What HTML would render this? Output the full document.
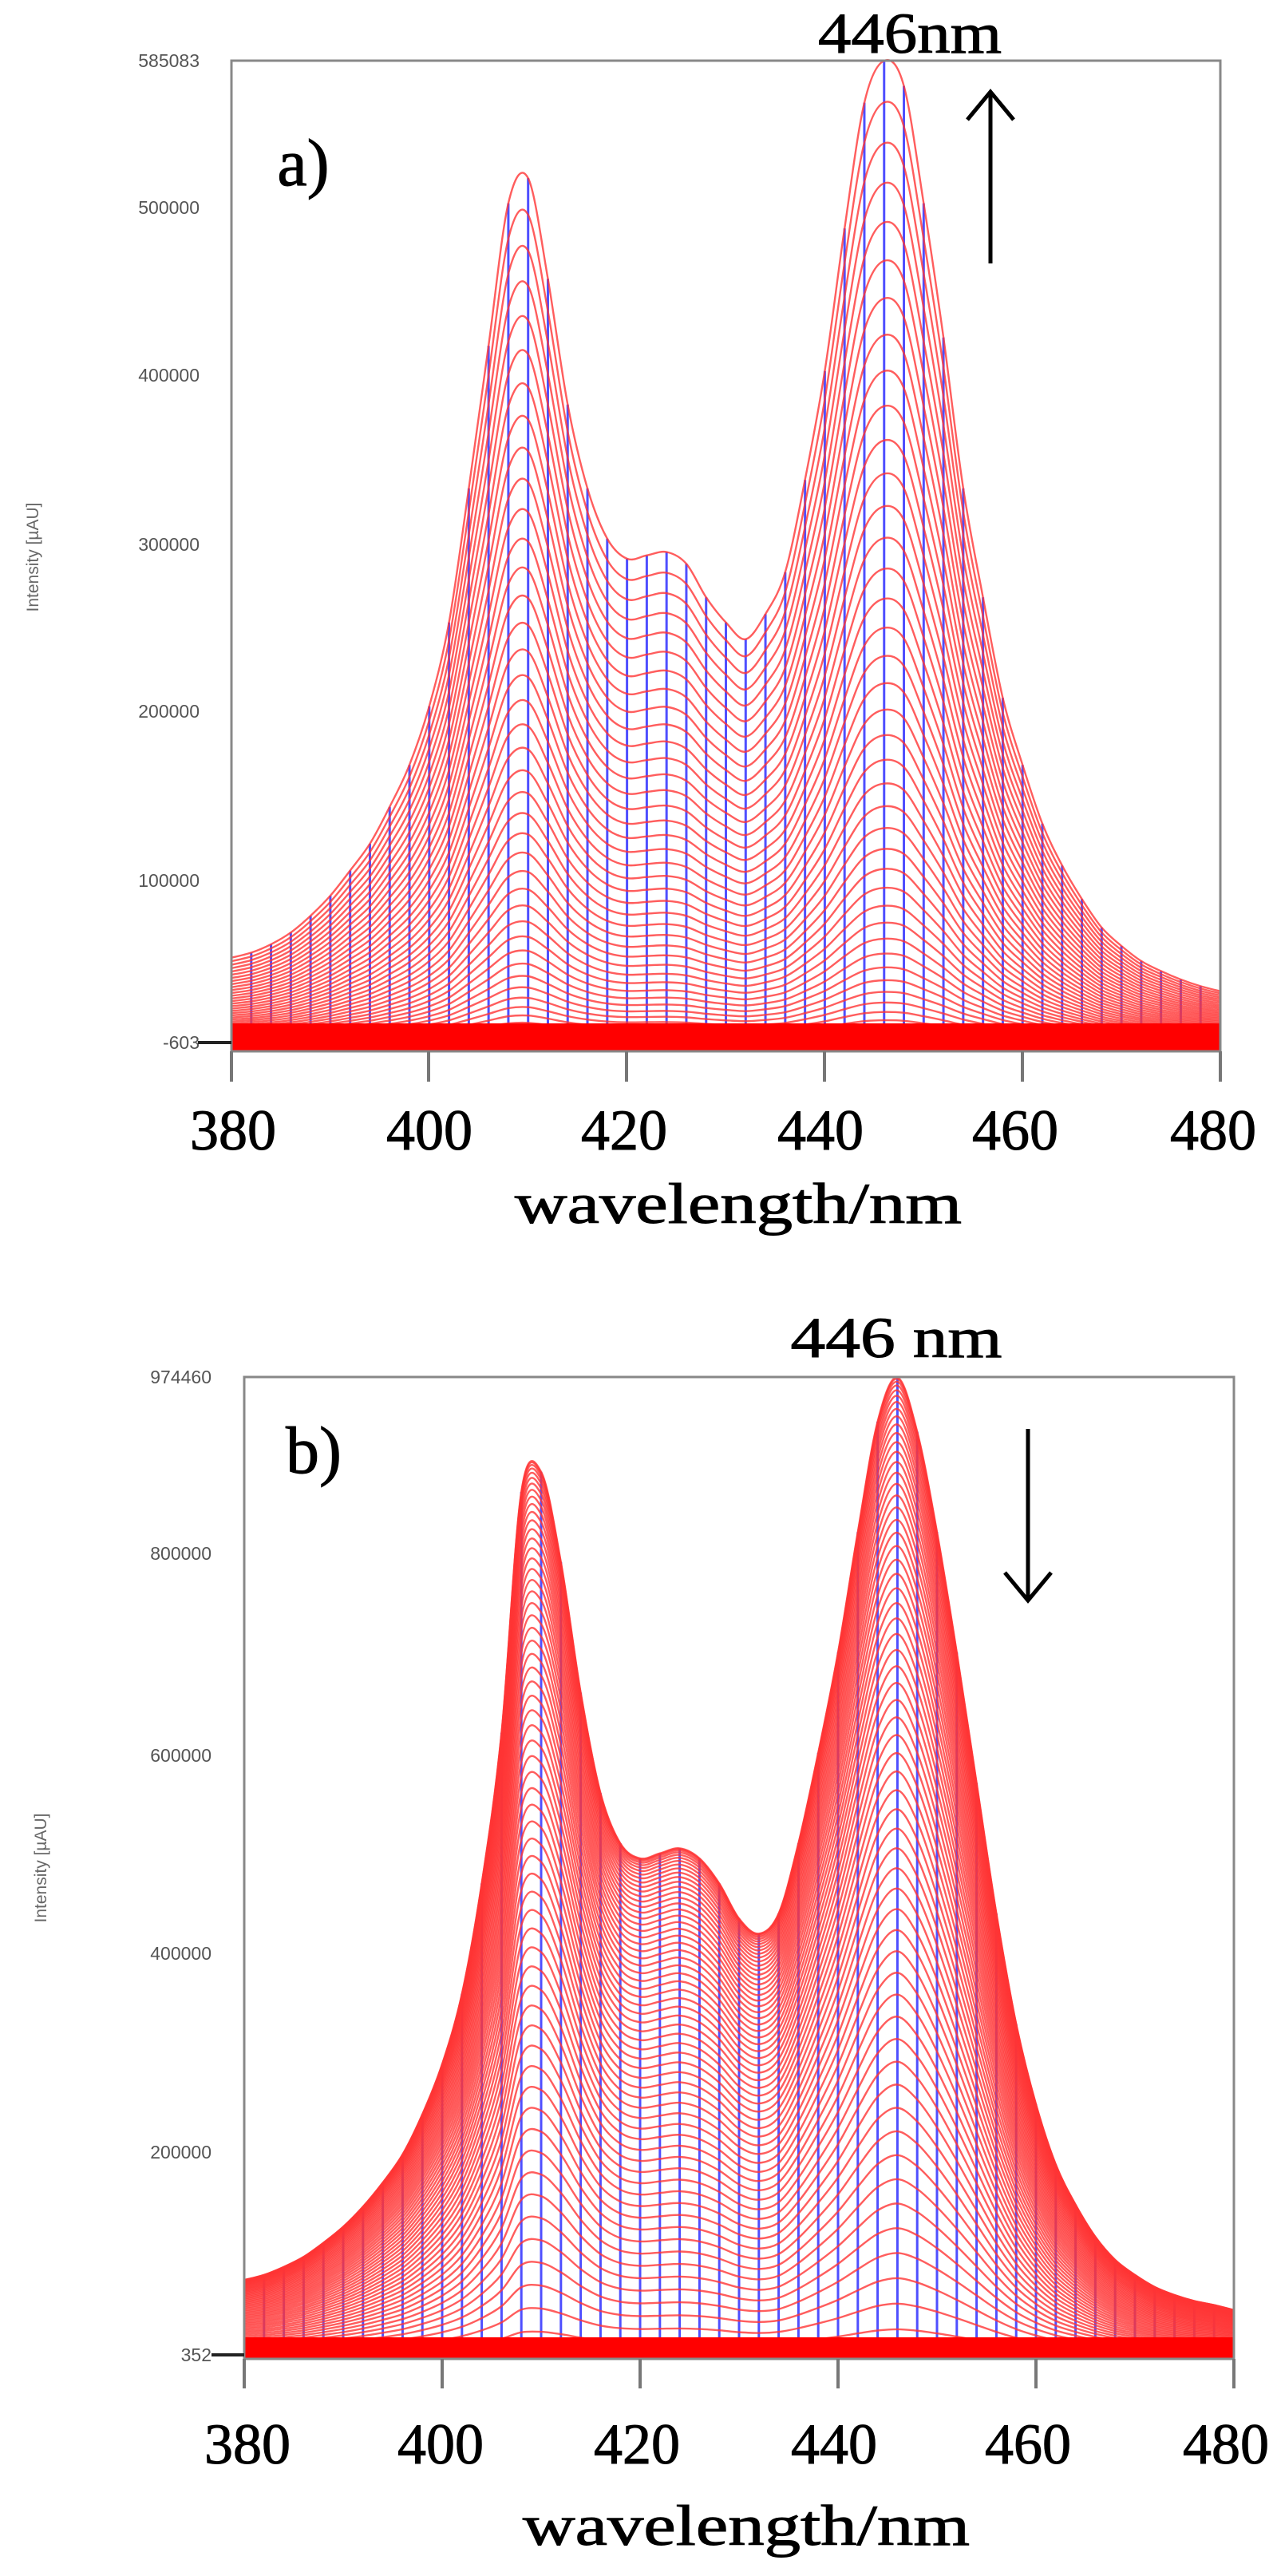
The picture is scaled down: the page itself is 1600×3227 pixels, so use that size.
<!DOCTYPE html>
<html><head><meta charset="utf-8">
<style>html,body{margin:0;padding:0;background:#fff;}svg{display:block;}</style>
</head><body>
<svg id="s" width="1600" height="3227" viewBox="0 0 1600 3227" xmlns="http://www.w3.org/2000/svg">
<rect width="1600" height="3227" fill="#fff"/>
<g id="ga"></g>
<g id="gb"></g>
<!-- frame a -->
<rect x="290" y="76" width="1239" height="1241" fill="none" stroke="#888" stroke-width="3"/>
<g font-family="Liberation Sans, sans-serif" font-size="23" fill="#555" text-anchor="end">
<text x="250" y="84">585083</text>
<text x="250" y="268">500000</text>
<text x="250" y="478">400000</text>
<text x="250" y="690">300000</text>
<text x="250" y="899">200000</text>
<text x="250" y="1111">100000</text>
<text x="250" y="1314">-603</text>
</g>
<line x1="248" y1="1306" x2="290" y2="1306" stroke="#222" stroke-width="4"/>
<text transform="translate(48,698) rotate(-90)" font-family="Liberation Sans, sans-serif" font-size="21" fill="#666" text-anchor="middle">Intensity [µAU]</text>
<g stroke="#777" stroke-width="4">
<line x1="290" y1="1317" x2="290" y2="1355"/><line x1="537" y1="1317" x2="537" y2="1355"/><line x1="785" y1="1317" x2="785" y2="1355"/><line x1="1033" y1="1317" x2="1033" y2="1355"/><line x1="1281" y1="1317" x2="1281" y2="1355"/><line x1="1529" y1="1317" x2="1529" y2="1355"/>
</g>
<g font-family="Liberation Serif, serif" font-size="72" fill="#000" text-anchor="middle" stroke="#000" stroke-width="1">
<text x="292" y="1440">380</text><text x="538" y="1440">400</text><text x="782" y="1440">420</text><text x="1028" y="1440">440</text><text x="1272" y="1440">460</text><text x="1520" y="1440">480</text>
<text x="925" y="1532" textLength="560" lengthAdjust="spacingAndGlyphs">wavelength/nm</text>
<text x="1140" y="66" textLength="230" lengthAdjust="spacingAndGlyphs">446nm</text>
<text x="380" y="232" font-size="84">a)</text>
</g>
<line x1="1241" y1="330" x2="1241" y2="118" stroke="#000" stroke-width="5"/>
<path d="M1212 150 L1241 115 L1270 150" fill="none" stroke="#000" stroke-width="5"/>

<!-- frame b -->
<rect x="306" y="1725" width="1240" height="1230" fill="none" stroke="#888" stroke-width="3"/>
<g font-family="Liberation Sans, sans-serif" font-size="23" fill="#555" text-anchor="end">
<text x="265" y="1733">974460</text>
<text x="265" y="1954">800000</text>
<text x="265" y="2207">600000</text>
<text x="265" y="2455">400000</text>
<text x="265" y="2704">200000</text>
<text x="265" y="2958">352</text>
</g>
<line x1="265" y1="2950" x2="306" y2="2950" stroke="#222" stroke-width="4"/>
<text transform="translate(58,2340) rotate(-90)" font-family="Liberation Sans, sans-serif" font-size="21" fill="#666" text-anchor="middle">Intensity [µAU]</text>
<g stroke="#777" stroke-width="4">
<line x1="306" y1="2955" x2="306" y2="2992"/><line x1="554" y1="2955" x2="554" y2="2992"/><line x1="802" y1="2955" x2="802" y2="2992"/><line x1="1050" y1="2955" x2="1050" y2="2992"/><line x1="1298" y1="2955" x2="1298" y2="2992"/><line x1="1546" y1="2955" x2="1546" y2="2992"/>
</g>
<g font-family="Liberation Serif, serif" font-size="72" fill="#000" text-anchor="middle" stroke="#000" stroke-width="1">
<text x="310" y="3086">380</text><text x="552" y="3086">400</text><text x="798" y="3086">420</text><text x="1045" y="3086">440</text><text x="1288" y="3086">460</text><text x="1536" y="3086">480</text>
<text x="935" y="3188" textLength="560" lengthAdjust="spacingAndGlyphs">wavelength/nm</text>
<text x="1123" y="1700" textLength="265" lengthAdjust="spacingAndGlyphs">446 nm</text>
<text x="393" y="1845" font-size="84">b)</text>
</g>
<line x1="1288" y1="1790" x2="1288" y2="2002" stroke="#000" stroke-width="5"/>
<path d="M1259 1970 L1288 2005 L1317 1970" fill="none" stroke="#000" stroke-width="5"/>
</svg>
<script>
(function(){
var NS="http://www.w3.org/2000/svg";
var A=[50,53,58,65,75,87,102,118,140,165,200,250,330,415,500,515,455,380,330,300,288,290,292,285,265,250,240,255,280,335,400,485,560,585,570,500,420,330,265,205,165,130,105,85,68,57,48,42,37,33,30];
var B=[75,80,88,98,112,128,148,172,200,240,290,360,470,620,860,880,790,660,560,510,495,500,505,495,470,435,420,440,510,600,700,820,930,974,920,820,700,570,440,330,250,190,150,118,95,80,68,60,54,50,45];
function el(g,tag,at){var e=document.createElementNS(NS,tag);for(var k in at)e.setAttribute(k,at[k]);g.appendChild(e);return e;}
function smooth(P){var d='M'+P[0][0].toFixed(1)+' '+P[0][1].toFixed(1);
 for(var i=0;i<P.length-1;i++){var p0=P[Math.max(0,i-1)],p1=P[i],p2=P[i+1],p3=P[Math.min(P.length-1,i+2)];
  var c1x=p1[0]+(p2[0]-p0[0])/6,c1y=p1[1]+(p2[1]-p0[1])/6,c2x=p2[0]-(p3[0]-p1[0])/6,c2y=p2[1]-(p3[1]-p1[1])/6;
  d+='C'+c1x.toFixed(1)+' '+c1y.toFixed(1)+' '+c2x.toFixed(1)+' '+c2y.toFixed(1)+' '+p2[0].toFixed(1)+' '+p2[1].toFixed(1);}
 return d;}
function draw(gid,S,x0,x1,ybase,ytop,vmin,vmax,fs,bandTop,bandBot){
 var g=document.getElementById(gid);
 function X(i){return x0+(x1-x0)*i/50;}
 function Y(v){return ybase-(v-vmin)/(vmax-vmin)*(ybase-ytop);}
 var fmax=fs[fs.length-1];
 for(var i=0;i<=50;i++){el(g,'line',{x1:X(i),x2:X(i),y1:ybase,y2:Y(S[i]*1000*fmax),stroke:'#4f4fff','stroke-width':3});}
 for(var k=0;k<fs.length;k++){
  var P=[];for(var i=0;i<=50;i++){P.push([X(i),Y(S[i]*1000*fs[k])]);}
  el(g,'path',{d:smooth(P),fill:'none',stroke:'#ff3434','stroke-width':2.4,'stroke-opacity':0.8});
 }
 el(g,'rect',{x:x0,y:bandTop,width:x1-x0,height:bandBot-bandTop,fill:'#ff0000'});
}
var fa=[];var N=42;for(var k=1;k<=N;k++){fa.push(Math.pow(k/N,1.8));}
draw('ga',A,290,1529,1306,76,-603,585083,fa,1282,1317);
var fb=[];var M=60;for(var k=0;k<=M;k++){fb.push(1-Math.pow(1-k/M,1.6));}
fb=fb.filter(function(v){return v>0.02;});
draw('gb',B,306,1546,2950,1725,352,974460,fb,2928,2954);
})();
</script>
</body></html>
